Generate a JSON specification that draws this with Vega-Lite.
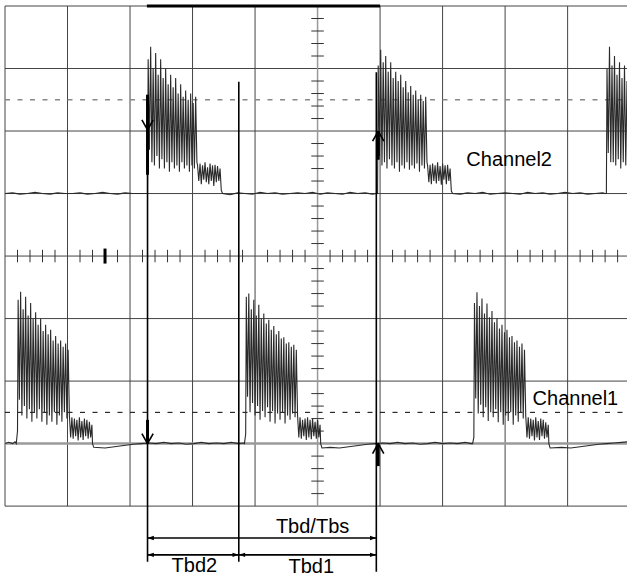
{
  "$schema": "https://vega.github.io/schema/vega-lite/v6.json",
  "width": 622,
  "height": 572,
  "autosize": {"type": "none"},
  "padding": {"left": 5, "top": 6, "right": 0, "bottom": 0},
  "background": "white",
  "config": {"view": {"stroke": null}},
  "datasets": {
    "vgrid": [
      {"x": 0, "y": -400, "y2": 400}, {"x": 100, "y": -400, "y2": 400}, {"x": 200, "y": -400, "y2": 400},
      {"x": 300, "y": -400, "y2": 400}, {"x": 400, "y": -400, "y2": 400}, {"x": 600, "y": -400, "y2": 400},
      {"x": 700, "y": -400, "y2": 400}, {"x": 800, "y": -400, "y2": 400}, {"x": 900, "y": -400, "y2": 400}
    ],
    "hgrid": [
      {"y": -400, "x": 0, "x2": 995}, {"y": -200, "x": 0, "x2": 995}, {"y": -100, "x": 0, "x2": 995},
      {"y": 0, "x": 0, "x2": 995}, {"y": 100, "x": 0, "x2": 995}, {"y": 200, "x": 0, "x2": 995},
      {"y": 300, "x": 0, "x2": 995}, {"y": 400, "x": 0, "x2": 995}
    ],
    "ticksX": [
      {"x": 20, "y": -10, "y2": 10}, {"x": 40, "y": -10, "y2": 10}, {"x": 60, "y": -10, "y2": 10}, {"x": 80, "y": -10, "y2": 10},
      {"x": 120, "y": -10, "y2": 10}, {"x": 140, "y": -10, "y2": 10}, {"x": 180, "y": -10, "y2": 10},
      {"x": 220, "y": -10, "y2": 10}, {"x": 240, "y": -10, "y2": 10}, {"x": 260, "y": -10, "y2": 10}, {"x": 280, "y": -10, "y2": 10},
      {"x": 320, "y": -10, "y2": 10}, {"x": 340, "y": -10, "y2": 10}, {"x": 360, "y": -10, "y2": 10}, {"x": 380, "y": -10, "y2": 10},
      {"x": 420, "y": -10, "y2": 10}, {"x": 440, "y": -10, "y2": 10}, {"x": 460, "y": -10, "y2": 10}, {"x": 480, "y": -10, "y2": 10},
      {"x": 520, "y": -10, "y2": 10}, {"x": 540, "y": -10, "y2": 10}, {"x": 560, "y": -10, "y2": 10}, {"x": 580, "y": -10, "y2": 10},
      {"x": 620, "y": -10, "y2": 10}, {"x": 640, "y": -10, "y2": 10}, {"x": 660, "y": -10, "y2": 10}, {"x": 680, "y": -10, "y2": 10},
      {"x": 720, "y": -10, "y2": 10}, {"x": 740, "y": -10, "y2": 10}, {"x": 760, "y": -10, "y2": 10}, {"x": 780, "y": -10, "y2": 10},
      {"x": 820, "y": -10, "y2": 10}, {"x": 840, "y": -10, "y2": 10}, {"x": 860, "y": -10, "y2": 10}, {"x": 880, "y": -10, "y2": 10},
      {"x": 920, "y": -10, "y2": 10}, {"x": 940, "y": -10, "y2": 10}, {"x": 960, "y": -10, "y2": 10}, {"x": 980, "y": -10, "y2": 10}
    ],
    "ticksY": [
      {"y": -380, "x": 490, "x2": 510}, {"y": -360, "x": 490, "x2": 510}, {"y": -340, "x": 490, "x2": 510}, {"y": -320, "x": 490, "x2": 510},
      {"y": -280, "x": 490, "x2": 510}, {"y": -260, "x": 490, "x2": 510}, {"y": -240, "x": 490, "x2": 510}, {"y": -220, "x": 490, "x2": 510},
      {"y": -180, "x": 490, "x2": 510}, {"y": -160, "x": 490, "x2": 510}, {"y": -140, "x": 490, "x2": 510}, {"y": -120, "x": 490, "x2": 510},
      {"y": -80, "x": 490, "x2": 510}, {"y": -60, "x": 490, "x2": 510}, {"y": -40, "x": 490, "x2": 510}, {"y": -20, "x": 490, "x2": 510},
      {"y": 20, "x": 490, "x2": 510}, {"y": 40, "x": 490, "x2": 510}, {"y": 60, "x": 490, "x2": 510}, {"y": 80, "x": 490, "x2": 510},
      {"y": 120, "x": 490, "x2": 510}, {"y": 140, "x": 490, "x2": 510}, {"y": 160, "x": 490, "x2": 510}, {"y": 180, "x": 490, "x2": 510},
      {"y": 220, "x": 490, "x2": 510}, {"y": 240, "x": 490, "x2": 510}, {"y": 260, "x": 490, "x2": 510}, {"y": 280, "x": 490, "x2": 510},
      {"y": 320, "x": 490, "x2": 510}, {"y": 340, "x": 490, "x2": 510}, {"y": 360, "x": 490, "x2": 510}, {"y": 380, "x": 490, "x2": 510}
    ],
    "ch2": [
      {"x":0,"y":100},{"x":12,"y":101},{"x":24,"y":99},{"x":36,"y":100},{"x":48,"y":102},{"x":60,"y":100},{"x":72,"y":99},{"x":84,"y":101},{"x":96,"y":100},{"x":108,"y":100},{"x":120,"y":101},{"x":132,"y":99},{"x":144,"y":100},{"x":156,"y":102},{"x":168,"y":100},{"x":180,"y":99},{"x":192,"y":101},{"x":204,"y":100},{"x":216,"y":100},{"x":226,"y":100},
      {"x":228,"y":100},{"x":229,"y":315},{"x":231,"y":170},{"x":233,"y":335},{"x":235,"y":150},{"x":237,"y":300},{"x":239,"y":145},{"x":241,"y":325},{"x":243,"y":160},{"x":245,"y":290},{"x":247,"y":140},{"x":249,"y":315},{"x":251,"y":155},{"x":253,"y":285},{"x":255,"y":140},{"x":257,"y":300},{"x":259,"y":150},{"x":261,"y":275},{"x":263,"y":135},{"x":265,"y":290},{"x":267,"y":150},{"x":269,"y":270},{"x":271,"y":140},{"x":273,"y":285},{"x":275,"y":145},{"x":277,"y":260},{"x":279,"y":135},{"x":281,"y":275},{"x":283,"y":150},{"x":285,"y":255},{"x":287,"y":140},{"x":289,"y":265},{"x":291,"y":145},{"x":293,"y":250},{"x":295,"y":135},{"x":297,"y":260},{"x":299,"y":145},{"x":301,"y":245},{"x":303,"y":140},{"x":305,"y":255},{"x":307,"y":150},
      {"x":308,"y":145},{"x":310,"y":120},{"x":312,"y":148},{"x":314,"y":115},{"x":316,"y":145},{"x":318,"y":122},{"x":320,"y":150},{"x":322,"y":118},{"x":324,"y":142},{"x":326,"y":115},{"x":328,"y":148},{"x":330,"y":120},{"x":332,"y":145},{"x":334,"y":112},{"x":336,"y":146},{"x":338,"y":118},{"x":340,"y":144},{"x":342,"y":120},{"x":344,"y":140},{"x":346,"y":105},{"x":348,"y":100},
      {"x":360,"y":98},{"x":372,"y":101},{"x":384,"y":100},{"x":396,"y":99},{"x":408,"y":102},{"x":420,"y":100},{"x":432,"y":101},{"x":444,"y":99},{"x":456,"y":100},{"x":468,"y":101},{"x":480,"y":100},{"x":492,"y":102},{"x":504,"y":99},{"x":516,"y":101},{"x":528,"y":100},{"x":540,"y":99},{"x":552,"y":102},{"x":564,"y":100},{"x":576,"y":101},{"x":588,"y":99},{"x":594,"y":100},
      {"x":596,"y":100},{"x":597,"y":305},{"x":599,"y":160},{"x":601,"y":330},{"x":603,"y":145},{"x":605,"y":310},{"x":607,"y":150},{"x":609,"y":320},{"x":611,"y":140},{"x":613,"y":295},{"x":615,"y":155},{"x":617,"y":310},{"x":619,"y":145},{"x":621,"y":285},{"x":623,"y":140},{"x":625,"y":295},{"x":627,"y":150},{"x":629,"y":280},{"x":631,"y":135},{"x":633,"y":290},{"x":635,"y":145},{"x":637,"y":270},{"x":639,"y":140},{"x":641,"y":280},{"x":643,"y":150},{"x":645,"y":262},{"x":647,"y":138},{"x":649,"y":272},{"x":651,"y":145},{"x":653,"y":258},{"x":655,"y":140},{"x":657,"y":265},{"x":659,"y":148},{"x":661,"y":250},{"x":663,"y":135},{"x":665,"y":258},{"x":667,"y":145},{"x":669,"y":248},{"x":671,"y":140},{"x":673,"y":255},{"x":675,"y":150},
      {"x":676,"y":145},{"x":678,"y":118},{"x":680,"y":146},{"x":682,"y":115},{"x":684,"y":148},{"x":686,"y":120},{"x":688,"y":145},{"x":690,"y":116},{"x":692,"y":150},{"x":694,"y":120},{"x":696,"y":144},{"x":698,"y":114},{"x":700,"y":148},{"x":702,"y":122},{"x":704,"y":145},{"x":706,"y":115},{"x":708,"y":146},{"x":710,"y":120},{"x":712,"y":140},{"x":714,"y":104},{"x":716,"y":100},
      {"x":728,"y":99},{"x":740,"y":101},{"x":752,"y":100},{"x":764,"y":102},{"x":776,"y":99},{"x":788,"y":100},{"x":800,"y":101},{"x":812,"y":100},{"x":824,"y":99},{"x":836,"y":102},{"x":848,"y":100},{"x":860,"y":101},{"x":872,"y":99},{"x":884,"y":100},{"x":896,"y":102},{"x":908,"y":100},{"x":920,"y":101},{"x":932,"y":99},{"x":944,"y":100},{"x":956,"y":101},{"x":960,"y":100},
      {"x":962,"y":100},{"x":963,"y":300},{"x":965,"y":165},{"x":967,"y":335},{"x":969,"y":150},{"x":971,"y":305},{"x":973,"y":150},{"x":975,"y":320},{"x":977,"y":145},{"x":979,"y":290},{"x":981,"y":155},{"x":983,"y":310},{"x":985,"y":140},{"x":987,"y":285},{"x":989,"y":150},{"x":991,"y":305},{"x":993,"y":145},{"x":995,"y":280},{"x":997,"y":140},{"x":999,"y":295},{"x":1001,"y":150}
    ],
    "ch1": [
      {"x":0,"y":-300},{"x":6,"y":-298},{"x":12,"y":-300},{"x":16,"y":-297},{"x":18,"y":-300},
      {"x":20,"y":-280},{"x":21,"y":-70},{"x":23,"y":-230},{"x":25,"y":-57},{"x":27,"y":-255},{"x":29,"y":-85},{"x":31,"y":-240},{"x":33,"y":-65},{"x":35,"y":-260},{"x":37,"y":-95},{"x":39,"y":-245},{"x":41,"y":-75},{"x":43,"y":-265},{"x":45,"y":-100},{"x":47,"y":-250},{"x":49,"y":-90},{"x":51,"y":-260},{"x":53,"y":-110},{"x":55,"y":-245},{"x":57,"y":-100},{"x":59,"y":-265},{"x":61,"y":-120},{"x":63,"y":-250},{"x":65,"y":-110},{"x":67,"y":-270},{"x":69,"y":-125},{"x":71,"y":-255},{"x":73,"y":-118},{"x":75,"y":-265},{"x":77,"y":-135},{"x":79,"y":-250},{"x":81,"y":-128},{"x":83,"y":-270},{"x":85,"y":-140},{"x":87,"y":-255},{"x":89,"y":-135},{"x":91,"y":-265},{"x":93,"y":-145},{"x":95,"y":-250},{"x":97,"y":-140},{"x":99,"y":-260},{"x":101,"y":-150},
      {"x":103,"y":-255},{"x":105,"y":-290},{"x":107,"y":-258},{"x":109,"y":-292},{"x":111,"y":-260},{"x":113,"y":-288},{"x":115,"y":-262},{"x":117,"y":-295},{"x":119,"y":-258},{"x":121,"y":-290},{"x":123,"y":-264},{"x":125,"y":-294},{"x":127,"y":-260},{"x":129,"y":-288},{"x":131,"y":-262},{"x":133,"y":-292},{"x":135,"y":-265},{"x":137,"y":-290},{"x":139,"y":-270},{"x":140,"y":-300},{"x":142,"y":-306},
      {"x":160,"y":-307},{"x":175,"y":-305},{"x":190,"y":-303},{"x":205,"y":-301},{"x":218,"y":-300},{"x":230,"y":-299},{"x":242,"y":-300},{"x":254,"y":-298},{"x":266,"y":-300},{"x":278,"y":-299},{"x":290,"y":-301},{"x":302,"y":-300},{"x":314,"y":-298},{"x":326,"y":-300},{"x":338,"y":-299},{"x":350,"y":-300},{"x":362,"y":-298},{"x":374,"y":-300},{"x":381,"y":-299},
      {"x":383,"y":-300},{"x":385,"y":-285},{"x":386,"y":-65},{"x":388,"y":-225},{"x":390,"y":-60},{"x":392,"y":-250},{"x":394,"y":-85},{"x":396,"y":-235},{"x":398,"y":-70},{"x":400,"y":-255},{"x":402,"y":-95},{"x":404,"y":-240},{"x":406,"y":-78},{"x":408,"y":-262},{"x":410,"y":-100},{"x":412,"y":-248},{"x":414,"y":-92},{"x":416,"y":-258},{"x":418,"y":-108},{"x":420,"y":-242},{"x":422,"y":-102},{"x":424,"y":-265},{"x":426,"y":-118},{"x":428,"y":-248},{"x":430,"y":-112},{"x":432,"y":-268},{"x":434,"y":-125},{"x":436,"y":-252},{"x":438,"y":-120},{"x":440,"y":-262},{"x":442,"y":-132},{"x":444,"y":-250},{"x":446,"y":-130},{"x":448,"y":-268},{"x":450,"y":-140},{"x":452,"y":-255},{"x":454,"y":-138},{"x":456,"y":-262},{"x":458,"y":-145},{"x":460,"y":-252},{"x":462,"y":-142},{"x":464,"y":-258},{"x":466,"y":-150},
      {"x":468,"y":-255},{"x":470,"y":-290},{"x":472,"y":-258},{"x":474,"y":-292},{"x":476,"y":-262},{"x":478,"y":-288},{"x":480,"y":-260},{"x":482,"y":-294},{"x":484,"y":-258},{"x":486,"y":-290},{"x":488,"y":-262},{"x":490,"y":-293},{"x":492,"y":-260},{"x":494,"y":-288},{"x":496,"y":-265},{"x":498,"y":-292},{"x":500,"y":-262},{"x":502,"y":-290},{"x":504,"y":-270},{"x":505,"y":-300},{"x":507,"y":-307},
      {"x":520,"y":-306},{"x":535,"y":-307},{"x":550,"y":-305},{"x":565,"y":-303},{"x":580,"y":-301},{"x":592,"y":-300},{"x":604,"y":-299},{"x":616,"y":-300},{"x":628,"y":-298},{"x":640,"y":-300},{"x":652,"y":-299},{"x":664,"y":-301},{"x":676,"y":-300},{"x":688,"y":-298},{"x":700,"y":-300},{"x":712,"y":-299},{"x":724,"y":-300},{"x":736,"y":-298},{"x":746,"y":-300},
      {"x":748,"y":-300},{"x":750,"y":-290},{"x":751,"y":-75},{"x":753,"y":-228},{"x":755,"y":-58},{"x":757,"y":-252},{"x":759,"y":-80},{"x":761,"y":-238},{"x":763,"y":-68},{"x":765,"y":-258},{"x":767,"y":-92},{"x":769,"y":-242},{"x":771,"y":-76},{"x":773,"y":-264},{"x":775,"y":-98},{"x":777,"y":-250},{"x":779,"y":-88},{"x":781,"y":-258},{"x":783,"y":-106},{"x":785,"y":-245},{"x":787,"y":-100},{"x":789,"y":-266},{"x":791,"y":-116},{"x":793,"y":-250},{"x":795,"y":-110},{"x":797,"y":-270},{"x":799,"y":-122},{"x":801,"y":-255},{"x":803,"y":-118},{"x":805,"y":-264},{"x":807,"y":-130},{"x":809,"y":-250},{"x":811,"y":-128},{"x":813,"y":-270},{"x":815,"y":-138},{"x":817,"y":-255},{"x":819,"y":-135},{"x":821,"y":-265},{"x":823,"y":-145},{"x":825,"y":-250},{"x":827,"y":-140},{"x":829,"y":-260},{"x":831,"y":-150},
      {"x":833,"y":-255},{"x":835,"y":-290},{"x":837,"y":-258},{"x":839,"y":-292},{"x":841,"y":-260},{"x":843,"y":-288},{"x":845,"y":-262},{"x":847,"y":-295},{"x":849,"y":-258},{"x":851,"y":-290},{"x":853,"y":-264},{"x":855,"y":-294},{"x":857,"y":-260},{"x":859,"y":-288},{"x":861,"y":-262},{"x":863,"y":-292},{"x":865,"y":-266},{"x":867,"y":-290},{"x":869,"y":-270},{"x":870,"y":-300},{"x":872,"y":-307},
      {"x":890,"y":-306},{"x":905,"y":-307},{"x":920,"y":-305},{"x":935,"y":-303},{"x":950,"y":-301},{"x":962,"y":-300},{"x":974,"y":-299},{"x":986,"y":-298},{"x":998,"y":-297}
    ],
    "thin": [
      {"x": 228, "y": 258, "x2": 228, "y2": -489},
      {"x": 374, "y": 279, "x2": 374, "y2": -489},
      {"x": 594, "y": 294, "x2": 594, "y2": -505},
      {"x": 228, "y": -451, "x2": 594, "y2": -451},
      {"x": 228, "y": -478, "x2": 374, "y2": -478},
      {"x": 374, "y": -478, "x2": 594, "y2": -478}
    ],
    "thick": [
      {"x": 227, "y": 400, "x2": 600, "y2": 400},
      {"x": 228, "y": 258, "x2": 228, "y2": 130},
      {"x": 228, "y": -262, "x2": 228, "y2": -300},
      {"x": 597, "y": 200, "x2": 597, "y2": 154},
      {"x": 597, "y": -300, "x2": 597, "y2": -336},
      {"x": 160, "y": -12, "x2": 160, "y2": 12}
    ],
    "vheads": [
      {"x": 219, "y": 218, "x2": 228, "y2": 202}, {"x": 237, "y": 218, "x2": 228, "y2": 202},
      {"x": 219, "y": -284, "x2": 228, "y2": -300}, {"x": 237, "y": -284, "x2": 228, "y2": -300},
      {"x": 588, "y": 184, "x2": 597, "y2": 200}, {"x": 606, "y": 184, "x2": 597, "y2": 200},
      {"x": 588, "y": -316, "x2": 597, "y2": -300}, {"x": 606, "y": -316, "x2": 597, "y2": -300}
    ],
    "leftHeads": [{"x": 228, "y": -451}, {"x": 228, "y": -478}, {"x": 374, "y": -478}],
    "rightHeads": [{"x": 594, "y": -451}, {"x": 374, "y": -478}, {"x": 594, "y": -478}],
    "labelsLeft": [
      {"x": 738, "y": 144, "label": "Channel2"},
      {"x": 844, "y": -238, "label": "Channel1"}
    ],
    "labelsCenter": [
      {"x": 492, "y": -443, "label": "Tbd/Tbs"},
      {"x": 303, "y": -506, "label": "Tbd2"},
      {"x": 490, "y": -507, "label": "Tbd1"}
    ]
  },
  "encoding": {
    "x": {"field": "x", "type": "quantitative", "scale": {"domain": [0, 995], "nice": false, "zero": false}, "axis": null},
    "y": {"field": "y", "type": "quantitative", "scale": {"domain": [-515, 400], "nice": false, "zero": false}, "axis": null}
  },
  "layer": [
    {"data": {"name": "vgrid"}, "mark": {"type": "rule", "color": "#444444", "strokeWidth": 1}, "encoding": {"y2": {"field": "y2"}}},
    {"data": {"name": "hgrid"}, "mark": {"type": "rule", "color": "#444444", "strokeWidth": 1}, "encoding": {"x2": {"field": "x2"}}},
    {"data": {"values": [{"x": 500, "y": -400, "y2": 400}]}, "mark": {"type": "rule", "color": "#999999", "strokeWidth": 1.5}, "encoding": {"y2": {"field": "y2"}}},
    {"data": {"values": [{"y": -300, "x": 0, "x2": 995}]}, "mark": {"type": "rule", "color": "#9a9a9a", "strokeWidth": 2.5}, "encoding": {"x2": {"field": "x2"}}},
    {"data": {"name": "ticksX"}, "mark": {"type": "rule", "color": "#333333", "strokeWidth": 1}, "encoding": {"y2": {"field": "y2"}}},
    {"data": {"name": "ticksY"}, "mark": {"type": "rule", "color": "#333333", "strokeWidth": 1}, "encoding": {"x2": {"field": "x2"}}},
    {"data": {"values": [{"y": 250, "x": 0, "x2": 995}]}, "mark": {"type": "rule", "color": "#888888", "strokeWidth": 1.5, "strokeDash": [5, 7.5]}, "encoding": {"x2": {"field": "x2"}}},
    {"data": {"values": [{"y": -250, "x": 0, "x2": 995}]}, "mark": {"type": "rule", "color": "#000000", "strokeWidth": 1, "strokeDash": [5, 7.5]}, "encoding": {"x2": {"field": "x2"}}},
    {"data": {"name": "ch2"}, "mark": {"type": "line", "color": "#2a2a2a", "strokeWidth": 1.1, "clip": true, "interpolate": "linear"}, "encoding": {"order": {"field": "x", "type": "quantitative"}}},
    {"data": {"name": "ch1"}, "mark": {"type": "line", "color": "#2a2a2a", "strokeWidth": 1.1, "clip": true, "interpolate": "linear"}, "encoding": {"order": {"field": "x", "type": "quantitative"}}},
    {"data": {"name": "thin"}, "mark": {"type": "rule", "color": "#000000", "strokeWidth": 1.6}, "encoding": {"x2": {"field": "x2"}, "y2": {"field": "y2"}}},
    {"data": {"name": "thick"}, "mark": {"type": "rule", "color": "#000000", "strokeWidth": 3}, "encoding": {"x2": {"field": "x2"}, "y2": {"field": "y2"}}},
    {"data": {"name": "vheads"}, "mark": {"type": "rule", "color": "#000000", "strokeWidth": 1.6}, "encoding": {"x2": {"field": "x2"}, "y2": {"field": "y2"}}},
    {"data": {"name": "leftHeads"}, "mark": {"type": "point", "shape": "M0,0L2,-0.7L2,0.7Z", "size": 40, "filled": true, "color": "#000000", "opacity": 1}},
    {"data": {"name": "rightHeads"}, "mark": {"type": "point", "shape": "M0,0L-2,-0.7L-2,0.7Z", "size": 40, "filled": true, "color": "#000000", "opacity": 1}},
    {"data": {"name": "labelsLeft"}, "mark": {"type": "text", "align": "left", "baseline": "alphabetic", "font": "Liberation Sans", "fontSize": 20, "color": "#000000"}, "encoding": {"text": {"field": "label"}}},
    {"data": {"name": "labelsCenter"}, "mark": {"type": "text", "align": "center", "baseline": "alphabetic", "font": "Liberation Sans", "fontSize": 20, "color": "#000000"}, "encoding": {"text": {"field": "label"}}}
  ]
}
